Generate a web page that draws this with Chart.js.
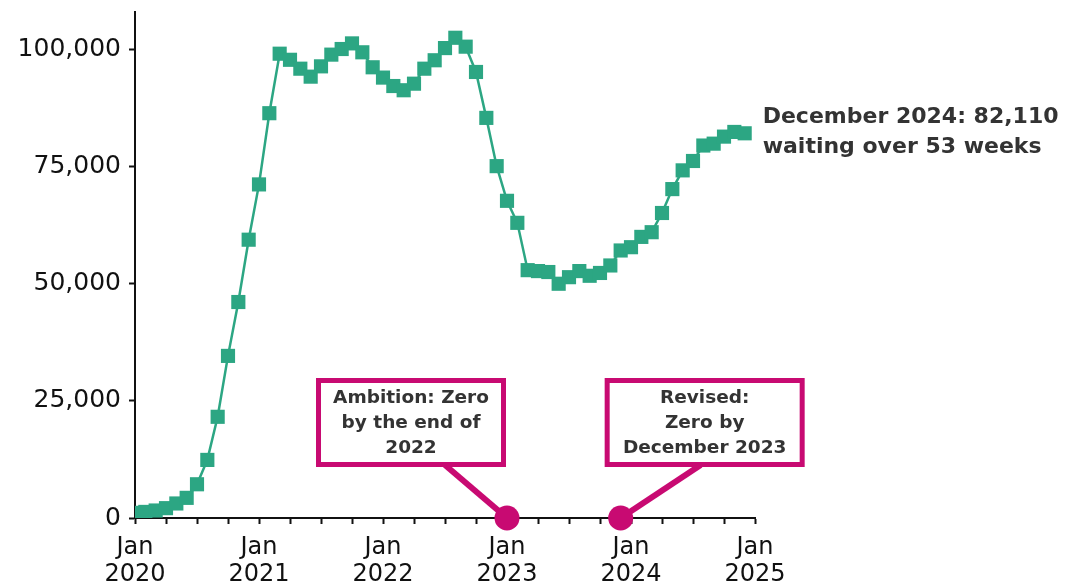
<!DOCTYPE html>
<html>
<head>
<meta charset="utf-8">
<script src="https://cdn.jsdelivr.net/npm/chart.js@4.4.1/dist/chart.umd.min.js"></script>
<style>
  html, body { margin: 0; padding: 0; background: #ffffff; }
  #wrap { width: 1065px; height: 585px; position: relative; }
</style>
</head>
<body>
<div id="wrap"><canvas id="chart" width="1065" height="585"></canvas></div>
<script>
// Monthly count of people waiting over 53 weeks, Jan 2020 – Dec 2024
const startYear = 2020;
const monthIndex = Array.from({ length: 60 }, (_, i) => i); // 0 = Jan 2020
const waitingOver53Weeks = [
  1100, 1300, 1600, 2100, 3100, 4300, 7200, 12400, 21600, 34600, 46100, 59400,
  71200, 86400, 99100, 97800, 95900, 94200, 96400, 98900, 100100, 101300, 99400, 96200,
  94000, 92200, 91300, 92700, 95900, 97700, 100300, 102500, 100600, 95200, 85400, 75100,
  67700, 63000, 52900, 52700, 52500, 50000, 51400, 52700, 51700, 52300, 53900, 57100,
  57800, 60000, 61000, 65100, 70200, 74200, 76200, 79500, 79900, 81400, 82400, 82110
];
const yTicks = [0, 25000, 50000, 75000, 100000];
const latestLabel = ['December 2024: 82,110', 'waiting over 53 weeks'];
const targets = [
  { month: 36, text: ['Ambition: Zero', 'by the end of', '2022'] },
  { month: 47, text: ['Revised:', 'Zero by', 'December 2023'] }
];

const GREEN = '#2ca683';
const PINK = '#c80a72';
const INK = '#111111';
const TEXT = '#333333';
const FONT = '"DejaVu Sans", "Noto Sans", sans-serif';

// Callout boxes, pointers and target markers, plus the end-of-line label
const annotations = {
  id: 'annotations',
  afterDraw(chart) {
    const { ctx, scales: { x, y } } = chart;
    const y0 = y.getPixelForValue(0);

    // label next to the last point
    const last = waitingOver53Weeks.length - 1;
    const lx = x.getPixelForValue(monthIndex[last]) + 18;
    const ly = y.getPixelForValue(waitingOver53Weeks[last]);
    ctx.save();
    ctx.fillStyle = TEXT;
    ctx.font = `700 22px ${FONT}`;
    ctx.textAlign = 'left';
    ctx.textBaseline = 'middle';
    ctx.fillText(latestLabel[0], lx, ly - 16);
    ctx.fillText(latestLabel[1], lx, ly + 14);
    ctx.restore();

    // boxes: placed relative to the target marker
    const boxes = [
      { dx: -191, w: 190, pointerFrom: -62 },
      { dx: -16, w: 200, pointerFrom: 80 }
    ];
    targets.forEach((t, k) => {
      const cx = x.getPixelForValue(t.month);
      const b = boxes[k];
      const left = cx + b.dx, top = 378, w = b.w, h = 89;
      ctx.save();
      // pointer
      ctx.strokeStyle = PINK;
      ctx.lineWidth = 6;
      ctx.beginPath();
      ctx.moveTo(cx + b.pointerFrom, top + h - 2);
      ctx.lineTo(cx, y0);
      ctx.stroke();
      // box
      ctx.fillStyle = '#ffffff';
      ctx.fillRect(left, top, w, h);
      ctx.lineWidth = 5;
      ctx.strokeRect(left + 2.5, top + 2.5, w - 5, h - 5);
      // text
      ctx.fillStyle = TEXT;
      ctx.font = `700 18.5px ${FONT}`;
      ctx.textAlign = 'center';
      ctx.textBaseline = 'middle';
      t.text.forEach((line, j) => ctx.fillText(line, left + w / 2, top + 20 + j * 25));
      // marker on the axis
      ctx.fillStyle = PINK;
      ctx.beginPath();
      ctx.arc(cx, y0, 12.5, 0, Math.PI * 2);
      ctx.fill();
      ctx.restore();
    });
  }
};

new Chart(document.getElementById('chart'), {
  type: 'line',
  data: {
    datasets: [{
      data: monthIndex.map((m, i) => ({ x: m, y: waitingOver53Weeks[i] })),
      borderColor: GREEN,
      backgroundColor: GREEN,
      borderWidth: 2.5,
      pointStyle: 'rect',
      pointRadius: 10,
      pointHoverRadius: 10,
      pointBorderWidth: 0,
      tension: 0
    }]
  },
  options: {
    responsive: false,
    animation: false,
    devicePixelRatio: 1,
    layout: { padding: { top: 12, right: 310, bottom: 0, left: 0 } },
    plugins: { legend: { display: false }, tooltip: { enabled: false } },
    scales: {
      x: {
        type: 'linear',
        min: 0,
        max: 60,
        afterFit(scale) { scale.height = 67; },
        border: { color: INK, width: 2 },
        grid: { drawOnChartArea: false, drawTicks: true, tickLength: 6, tickWidth: 2, tickColor: INK },
        ticks: {
          stepSize: 3,
          autoSkip: false,
          maxRotation: 0,
          padding: 10,
          color: INK,
          font: { family: FONT, size: 24, lineHeight: 1.13 },
          callback: v => (v % 12 === 0 ? ['Jan', String(startYear + v / 12)] : '')
        }
      },
      y: {
        min: 0,
        max: 108000,
        afterFit(scale) { scale.width = 135; scale.paddingTop = 0; scale.paddingBottom = 0; },
        afterBuildTicks(scale) { scale.ticks = yTicks.map(v => ({ value: v })); },
        border: { color: INK, width: 2 },
        grid: { drawOnChartArea: false, drawTicks: true, tickLength: 6, tickWidth: 2, tickColor: INK },
        ticks: {
          padding: 8,
          color: INK,
          font: { family: FONT, size: 25 },
          callback: v => v.toLocaleString('en-GB')
        }
      }
    }
  },
  plugins: [annotations]
});
</script>
</body>
</html>
